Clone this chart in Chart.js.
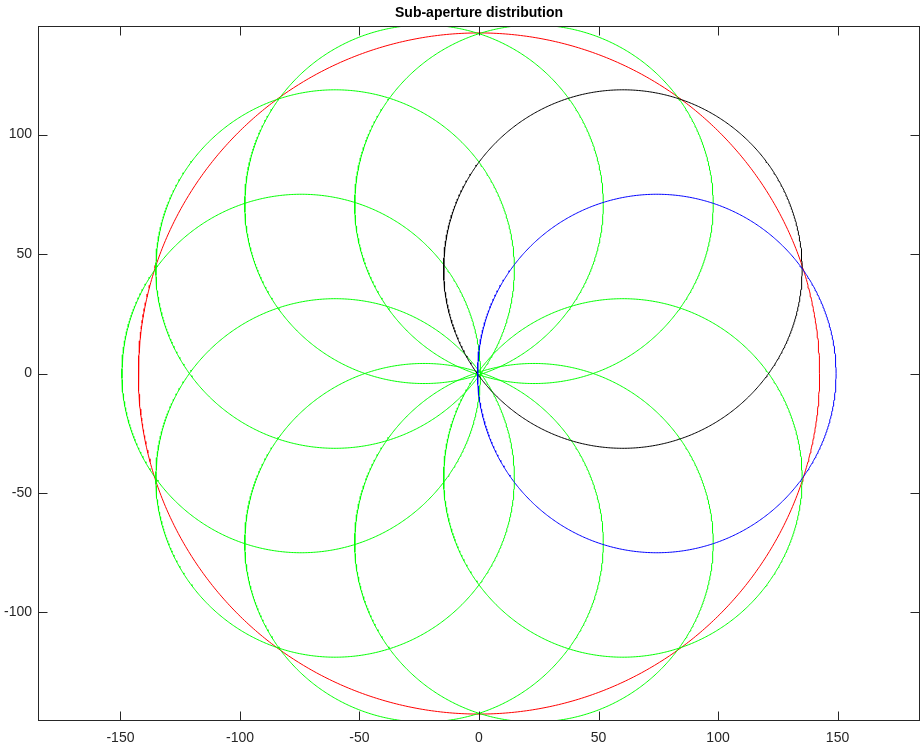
<!DOCTYPE html>
<html>
<head>
<meta charset="utf-8">
<script src="https://cdn.jsdelivr.net/npm/chart.js@4/dist/chart.umd.min.js"></script>
<style>
  body { margin: 0; background: #fff; }
  #wrap { width: 923px; height: 750px; }
</style>
</head>
<body>
<div id="wrap"><canvas id="chart"></canvas></div>
<script>
// full aperture (red)
var apertureCenter = [0, 0];
var apertureRadius = 142.5;

// sub-apertures, centres, all radius 75
var subCenterX = [74.4, 60.2, 23.0, -23.0, -60.2, -74.4, -60.2, -23.0, 23.0, 60.2];
var subCenterY = [0, 43.7, 70.8, 70.8, 43.7, 0, -43.7, -70.8, -70.8, -43.7];
var subRadius = 75;
var subColors = ['#0000ff', '#000000', '#00ff00', '#00ff00', '#00ff00',
                 '#00ff00', '#00ff00', '#00ff00', '#00ff00', '#00ff00'];

var xTicks = [-150, -100, -50, 0, 50, 100, 150];
var yTicks = [-100, -50, 0, 50, 100];
var xRange = [-184.5, 184.5];
var yRange = [-145.4, 145.4];

var title = 'Sub-aperture distribution';

// outline of a circle, sampled
function circle(cx, cy, r) {
  var pts = [];
  for (var i = 0; i <= 720; i++) {
    var t = i / 720 * 2 * Math.PI;
    pts.push({ x: cx + r * Math.cos(t), y: cy + r * Math.sin(t) });
  }
  return pts;
}

function line(data, color) {
  return {
    data: data,
    borderColor: color,
    borderWidth: 1,
    showLine: true,
    pointRadius: 0,
    fill: false,
    tension: 0
  };
}

var datasets = [];
// first dataset ends up on top, so blue/black go first
for (var i = 0; i < subCenterX.length; i++) {
  if (subColors[i] !== '#00ff00') datasets.push(line(circle(subCenterX[i], subCenterY[i], subRadius), subColors[i]));
}
for (var i = 0; i < subCenterX.length; i++) {
  if (subColors[i] === '#00ff00') datasets.push(line(circle(subCenterX[i], subCenterY[i], subRadius), subColors[i]));
}
datasets.push(line(circle(apertureCenter[0], apertureCenter[1], apertureRadius), '#ff0000'));

var axisColor = '#262626';
var tickFont = { family: '"Liberation Sans", Arial, sans-serif', size: 14 };

var boxPlugin = {
  id: 'box',
  afterDraw: function(chart) {
    var ctx = chart.ctx, a = chart.chartArea;
    var xs = chart.scales.x, ys = chart.scales.y;
    var L = Math.round(a.left) + 0.5, R = Math.round(a.right) - 0.5;
    var T = Math.round(a.top) + 0.5, B = Math.round(a.bottom) - 0.5;
    var len = 9;
    ctx.save();
    ctx.strokeStyle = axisColor;
    ctx.lineWidth = 1;
    ctx.strokeRect(L, T, R - L, B - T);
    ctx.beginPath();
    xTicks.forEach(function(v) {
      var p = Math.round(xs.getPixelForValue(v)) + 0.5;
      ctx.moveTo(p, B); ctx.lineTo(p, B - len);
      ctx.moveTo(p, T); ctx.lineTo(p, T + len);
    });
    yTicks.forEach(function(v) {
      var p = Math.round(ys.getPixelForValue(v)) + 0.5;
      ctx.moveTo(L, p); ctx.lineTo(L + len, p);
      ctx.moveTo(R, p); ctx.lineTo(R - len, p);
    });
    ctx.stroke();
    // title centred over the axes
    ctx.fillStyle = '#000';
    ctx.font = 'bold 14px "Liberation Sans", Arial, sans-serif';
    ctx.textAlign = 'center';
    ctx.textBaseline = 'middle';
    ctx.fillText(title, (a.left + a.right) / 2, 13);
    ctx.restore();
  }
};

new Chart('chart', {
  type: 'scatter',
  data: { datasets: datasets },
  options: {
    responsive: true,
    maintainAspectRatio: false,
    animation: false,
    layout: { padding: { top: 26, right: 3, left: 0, bottom: 0 } },
    plugins: {
      legend: { display: false },
      title: { display: false },
      tooltip: { enabled: false }
    },
    scales: {
      x: {
        type: 'linear',
        min: xRange[0],
        max: xRange[1],
        afterBuildTicks: function(s) { s.ticks = xTicks.map(function(v) { return { value: v }; }); },
        afterFit: function(s) { s.height = 29; },
        grid: { display: false, drawTicks: false },
        border: { display: false },
        ticks: { color: axisColor, font: tickFont, padding: 9, maxRotation: 0 }
      },
      y: {
        type: 'linear',
        min: yRange[0],
        max: yRange[1],
        afterBuildTicks: function(s) { s.ticks = yTicks.map(function(v) { return { value: v }; }); },
        afterFit: function(s) { s.width = 38; },
        grid: { display: false, drawTicks: false },
        border: { display: false },
        ticks: { color: axisColor, font: tickFont, padding: 6 }
      }
    }
  },
  plugins: [boxPlugin]
});
</script>
</body>
</html>
